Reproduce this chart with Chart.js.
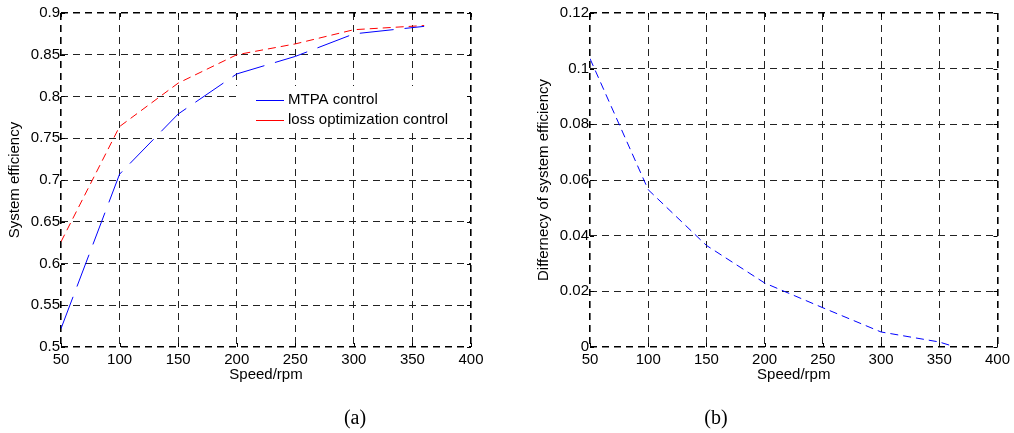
<!DOCTYPE html>
<html><head><meta charset="utf-8">
<script src="https://cdn.jsdelivr.net/npm/chart.js@4.4.0/dist/chart.umd.min.js"></script>
<style>
html,body{margin:0;padding:0;background:#fff;width:1014px;height:433px;overflow:hidden}
canvas{position:absolute;top:0}
#ca{left:0}
#cb{left:520px}
.cap{position:absolute;top:405px;font-family:"Liberation Serif","Times New Roman",serif;font-size:20px;color:#000;transform:translateX(-50%);line-height:24px}
</style></head><body>
<canvas id="ca" width="510" height="433"></canvas>
<canvas id="cb" width="494" height="433"></canvas>
<div class="cap" style="left:355px">(a)</div>
<div class="cap" style="left:716px">(b)</div>
<script>
// ---- data ----
const speedsA = [50, 100, 150, 200, 250, 300, 360];
const mtpaEff = [0.522, 0.707, 0.779, 0.827, 0.848, 0.875, 0.884];
const lossOptEff = [0.626, 0.764, 0.816, 0.850, 0.863, 0.880, 0.885];
const speedsB = [50, 100, 150, 200, 250, 300, 350, 360];
const effDiff = [0.1036, 0.0565, 0.0365, 0.023, 0.0141, 0.0054, 0.0018, 0.0005];
const xTickValues = [50, 100, 150, 200, 250, 300, 350, 400];
const yTicksA = [0.5, 0.55, 0.6, 0.65, 0.7, 0.75, 0.8, 0.85, 0.9];
const yTicksB = [0, 0.02, 0.04, 0.06, 0.08, 0.1, 0.12];
const seriesNamesA = ['MTPA control', 'loss optimization control'];
const xTitle = 'Speed/rpm';
const yTitleA = 'System efficiency';
const yTitleB = 'Differnecy of system efficiency';

const toPts = (xs, ys) => xs.map((x, i) => ({x: x, y: ys[i]}));

const tickFont = {family: '"Liberation Sans", Arial, sans-serif', size: 15};
const titleFont = {family: '"Liberation Sans", Arial, sans-serif', size: 15};

function gridOpts() {
  return {
    color: (ctx) => (ctx.index === 0 || ctx.index === ctx.scale.ticks.length - 1) ? '#000' : '#222',
    lineWidth: (ctx) => (ctx.index === 0 || ctx.index === ctx.scale.ticks.length - 1) ? 1.6 : 1,
    drawTicks: false
  };
}

// inward tick marks on all four sides
const innerTicks = {
  id: 'innerTicks',
  afterDraw(chart) {
    const {ctx, chartArea: a, scales} = chart;
    const L = 4;
    ctx.save();
    ctx.strokeStyle = '#000';
    ctx.lineWidth = 1;
    ctx.beginPath();
    scales.x.ticks.forEach(t => {
      const px = Math.round(scales.x.getPixelForValue(t.value)) + 0.5;
      ctx.moveTo(px, a.bottom); ctx.lineTo(px, a.bottom - L);
      ctx.moveTo(px, a.top); ctx.lineTo(px, a.top + L);
    });
    scales.y.ticks.forEach(t => {
      const py = Math.round(scales.y.getPixelForValue(t.value)) + 0.5;
      ctx.moveTo(a.left, py); ctx.lineTo(a.left + L, py);
      ctx.moveTo(a.right, py); ctx.lineTo(a.right - L, py);
    });
    ctx.stroke();
    ctx.restore();
  }
};

// legend drawn inside the plot area (MATLAB style)
const insideLegend = {
  id: 'insideLegend',
  afterDatasetsDraw(chart, args, opts) {
    if (!opts.show) return;
    const {ctx} = chart;
    const x0 = opts.x, y0 = opts.y;
    ctx.save();
    ctx.fillStyle = '#fff';
    ctx.fillRect(x0, y0, opts.w, opts.h);
    ctx.font = '15px "Liberation Sans", Arial, sans-serif';
    ctx.textBaseline = 'middle';
    chart.data.datasets.forEach((ds, i) => {
      const y = y0 + 13.5 + i * 20;
      ctx.strokeStyle = ds.borderColor;
      ctx.lineWidth = 1;
      ctx.setLineDash([]);
      ctx.beginPath();
      ctx.moveTo(x0 + 20, Math.round(y) + 0.5);
      ctx.lineTo(x0 + 48, Math.round(y) + 0.5);
      ctx.stroke();
      ctx.fillStyle = '#000';
      ctx.fillText(ds.label, x0 + 52, y + 0.5);
    });
    ctx.restore();
  }
};

function makeChart(id, datasets, yTicks, yTitle, yWidth, yTitlePad, rightPad, legendOpts) {
  return new Chart(document.getElementById(id), {
    type: 'line',
    data: {datasets: datasets},
    plugins: [innerTicks, insideLegend],
    options: {
      responsive: false,
      devicePixelRatio: 1,
      animation: false,
      events: [],
      layout: {padding: {top: 13, right: rightPad, bottom: 46, left: 0}},
      plugins: {
        legend: {display: false},
        tooltip: {enabled: false},
        insideLegend: legendOpts
      },
      elements: {point: {radius: 0}, line: {tension: 0, borderWidth: 1}},
      scales: {
        x: {
          type: 'linear',
          min: 50, max: 400,
          afterBuildTicks: (s) => { s.ticks = xTickValues.map(v => ({value: v})); },
          afterFit: (s) => { s.height = 40; },
          ticks: {color: '#000', font: tickFont, padding: 4, maxRotation: 0, autoSkip: false,
                  callback: (v) => String(v)},
          grid: gridOpts(),
          border: {display: false, dash: [7, 5]},
          title: {display: true, text: xTitle, color: '#000', font: titleFont, padding: {top: 0, bottom: 3}}
        },
        y: {
          type: 'linear',
          min: yTicks[0], max: yTicks[yTicks.length - 1],
          afterBuildTicks: (s) => { s.ticks = yTicks.map(v => ({value: v})); },
          afterFit: (s) => { s.width = yWidth; },
          ticks: {color: '#000', font: tickFont, padding: 1, autoSkip: false,
                  callback: (v) => String(v)},
          grid: gridOpts(),
          border: {display: false, dash: [7, 5]},
          title: {display: true, text: yTitle, color: '#000', font: titleFont, padding: {top: yTitlePad, bottom: 0}}
        }
      }
    }
  });
}

makeChart('ca', [
  {label: seriesNamesA[0], data: toPts(speedsA, mtpaEff), borderColor: '#0000ff', borderDash: [34, 11], borderWidth: 1},
  {label: seriesNamesA[1], data: toPts(speedsA, lossOptEff), borderColor: '#ff0000', borderDash: [8, 5], borderWidth: 1}
], yTicksA, yTitleA, 61, 6, 39, {show: true, x: 236, y: 86, w: 230, h: 44});

makeChart('cb', [
  {label: 'diff', data: toPts(speedsB, effDiff), borderColor: '#0000ff', borderDash: [8, 5], borderWidth: 1}
], yTicksB, yTitleB, 70, 15, 14, {show: false});
</script>
</body></html>
